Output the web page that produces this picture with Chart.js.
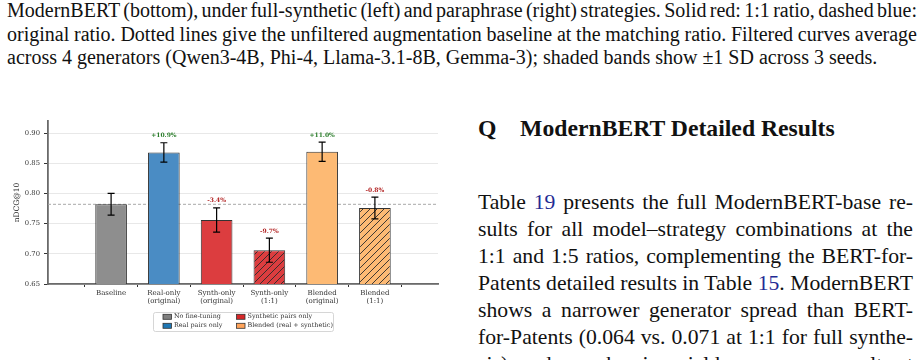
<!DOCTYPE html>
<html>
<head>
<meta charset="utf-8">
<script src="https://cdn.jsdelivr.net/npm/chart.js@4.4.1/dist/chart.umd.min.js"></script>
<style>
  html, body { margin: 0; padding: 0; background: #fff; }
  body { width: 923px; height: 360px; overflow: hidden; position: relative; }
  .cap { position: absolute; left: 7px; width: 910px; font-family: "Liberation Serif", serif; font-size: 20px; line-height: 23.7px; color: #111; white-space: nowrap; }
  .just { text-align: justify; text-align-last: justify; }
  #head { position: absolute; left: 478px; top: 117px; font-family: "Liberation Serif", serif; font-weight: bold; font-size: 23.7px; line-height: 23.7px; color: #111; white-space: nowrap; }
  #para { position: absolute; left: 478px; top: 189px; width: 435px; font-family: "Liberation Serif", serif; font-size: 21.7px; line-height: 27px; color: #111; }
  #para div { white-space: nowrap; text-align: justify; text-align-last: justify; }
  .ref { color: #1f2b94; }
  #chart { position: absolute; left: 0; top: 110px; }
</style>
</head>
<body>

<div class="cap just" style="top:-1px; word-spacing:-2px;">ModernBERT (bottom), under full-synthetic (left) and paraphrase (right) strategies. Solid red: 1:1 ratio, dashed blue:</div>
<div class="cap just" style="top:22.7px; word-spacing:-1px;">original ratio. Dotted lines give the unfiltered augmentation baseline at the matching ratio. Filtered curves average</div>
<div class="cap" style="top:46.4px;">across 4 generators (Qwen3-4B, Phi-4, Llama-3.1-8B, Gemma-3); shaded bands show ±1 SD across 3 seeds.</div>

<div id="head">Q&nbsp;&nbsp;&nbsp;&nbsp;ModernBERT Detailed Results</div>
<div id="para">
  <div>Table <span class="ref">19</span> presents the full ModernBERT-base re-</div>
  <div>sults for all model–strategy combinations at the</div>
  <div>1:1 and 1:5 ratios, complementing the BERT-for-</div>
  <div>Patents detailed results in Table <span class="ref">15</span>. ModernBERT</div>
  <div>shows a narrower generator spread than BERT-</div>
  <div>for-Patents (0.064 vs. 0.071 at 1:1 for full synthe-</div>
  <div>sis), and paraphrasing yields more even results at</div>
</div>

<canvas id="chart" width="445" height="225"></canvas>

<script>
// bar data (nDCG@10)
const categories = [
  ['Baseline'],
  ['Real-only', '(original)'],
  ['Synth-only', '(original)'],
  ['Synth-only', '(1:1)'],
  ['Blended', '(original)'],
  ['Blended', '(1:1)']
];
const values = [0.782, 0.868, 0.756, 0.706, 0.869, 0.776];
const errors = [0.018, 0.016, 0.020, 0.020, 0.016, 0.018];
const deltaLabels = ['', '+10.9%', '-3.4%', '-9.7%', '+11.0%', '-0.8%'];
const yTicks = [0.65, 0.70, 0.75, 0.80, 0.85, 0.90];
const yTitle = 'nDCG@10';

const legendLabels = ['No fine-tuning', 'Synthetic pairs only', 'Real pairs only', 'Blended (real + synthetic)'];

// styling
const barColors = ['#8e8e8e', '#4a8cc4', '#dc3d3f', '#dc3d3f', '#fdba74', '#fdba74'];
const hatched = [false, false, false, true, false, true];
const legendColors = ['#7f7f7f', '#d62728', '#1f77b4', '#ffa35a'];

function hatch(color) {
  const s = 7;
  const c = document.createElement('canvas');
  c.width = s; c.height = s;
  const g = c.getContext('2d');
  g.fillStyle = color;
  g.fillRect(0, 0, s, s);
  g.strokeStyle = '#2a2a2a';
  g.lineWidth = 0.9;
  g.beginPath();
  g.moveTo(-1, s + 1); g.lineTo(s + 1, -1);
  g.moveTo(-1, 1); g.lineTo(1, -1);
  g.moveTo(s - 1, s + 1); g.lineTo(s + 1, s - 1);
  g.stroke();
  return g.createPattern(c, 'repeat');
}

const ctx = document.getElementById('chart').getContext('2d');
const fills = barColors.map((c, i) => hatched[i] ? hatch(c) : c);

const extras = {
  id: 'extras',
  beforeDatasetsDraw(chart) {
    const { ctx, chartArea, scales } = chart;
    // dashed reference line at the baseline score
    const y = scales.y.getPixelForValue(values[0]);
    ctx.save();
    ctx.strokeStyle = '#a8a8a8';
    ctx.lineWidth = 1;
    ctx.setLineDash([3, 2]);
    ctx.beginPath();
    ctx.moveTo(chartArea.left, y);
    ctx.lineTo(chartArea.right, y);
    ctx.stroke();
    ctx.restore();
  },
  afterDatasetsDraw(chart) {
    const { ctx, scales } = chart;
    ctx.save();
    values.forEach((v, i) => {
      const x = scales.x.getPixelForValue(i);
      const top = scales.y.getPixelForValue(v + errors[i]);
      const bot = scales.y.getPixelForValue(v - errors[i]);
      ctx.strokeStyle = '#000';
      ctx.lineWidth = 1.2;
      ctx.beginPath();
      ctx.moveTo(x, top); ctx.lineTo(x, bot);
      ctx.moveTo(x - 3.5, top); ctx.lineTo(x + 3.5, top);
      ctx.moveTo(x - 3.5, bot); ctx.lineTo(x + 3.5, bot);
      ctx.stroke();
      if (deltaLabels[i]) {
        ctx.font = 'bold 6px "DejaVu Serif"';
        ctx.fillStyle = deltaLabels[i][0] === '+' ? '#2a7d2a' : '#b22222';
        ctx.textAlign = 'center';
        ctx.textBaseline = 'middle';
        ctx.fillText(deltaLabels[i], x, top - 7);
      }
    });
    ctx.restore();
  },
  afterDraw(chart) {
    const { ctx, chartArea } = chart;
    ctx.save();
    // y axis title
    ctx.translate(chartArea.left - 30.5, (chartArea.top + chartArea.bottom) / 2);
    ctx.rotate(-Math.PI / 2);
    ctx.font = '7.5px "DejaVu Serif"';
    ctx.fillStyle = '#222';
    ctx.textAlign = 'center';
    ctx.textBaseline = 'middle';
    ctx.fillText(yTitle, 0, 0);
    ctx.restore();

    // legend box, two columns
    const bw = 180, bh = 19;
    const bx = Math.round((chartArea.left + chartArea.right) / 2 - bw / 2) + 0.5;
    const by = chartArea.bottom + 28.5;
    ctx.save();
    ctx.fillStyle = '#fff';
    ctx.strokeStyle = '#cccccc';
    ctx.lineWidth = 0.8;
    ctx.beginPath();
    ctx.roundRect(bx, by, bw, bh, 2);
    ctx.fill();
    ctx.stroke();
    ctx.font = '6.4px "DejaVu Serif"';
    ctx.textBaseline = 'middle';
    ctx.textAlign = 'left';
    legendLabels.forEach((t, i) => {
      const col = i % 2, row = Math.floor(i / 2);
      const sx = bx + 9.5 + col * 73.5;
      const sy = by + 4.3 + row * 9;
      ctx.fillStyle = legendColors[i];
      ctx.fillRect(sx, sy - 2.5, 8.5, 5);
      ctx.strokeStyle = '#333';
      ctx.lineWidth = 0.8;
      ctx.strokeRect(sx, sy - 2.5, 8.5, 5);
      ctx.fillStyle = '#333';
      ctx.fillText(t, sx + 11, sy);
    });
    ctx.restore();
  }
};

new Chart(ctx, {
  type: 'bar',
  data: {
    datasets: [{
      data: values.map((v, i) => ({ x: i, y: v })),
      backgroundColor: fills,
      borderColor: '#333',
      borderWidth: 1,
      borderSkipped: false,
      barPercentage: 0.6,
      categoryPercentage: 1
    }]
  },
  options: {
    responsive: false,
    animation: false,
    devicePixelRatio: 1,
    layout: { padding: { top: 11, right: 7, left: 0, bottom: 25 } },
    plugins: { legend: { display: false }, tooltip: { enabled: false } },
    scales: {
      x: {
        type: 'linear',
        min: -0.58,
        max: 5.58,
        afterBuildTicks: (s) => { s.ticks = categories.map((c, i) => ({ value: i })); },
        afterFit: (s) => { s.height = 26; },
        ticks: {
          callback: (v) => categories[v],
          font: { family: 'DejaVu Serif', size: 7, lineHeight: 1.15 },
          color: '#333',
          padding: 2,
          maxRotation: 0,
          autoSkip: false
        },
        grid: { drawOnChartArea: false, drawTicks: true, tickLength: 3, tickColor: '#333' },
        border: { color: '#6a6a6a', width: 1.8 }
      },
      y: {
        min: 0.65,
        max: 0.92,
        afterBuildTicks: (s) => { s.ticks = yTicks.map(v => ({ value: v })); },
        afterFit: (s) => { s.width = 48; },
        ticks: {
          callback: (v) => v.toFixed(2),
          font: { family: 'DejaVu Serif', size: 6.8 },
          color: '#333',
          padding: 4
        },
        grid: { color: '#e8e8e8', lineWidth: 1, tickLength: 4, tickColor: '#333' },
        border: { color: '#6a6a6a', width: 1.8 }
      }
    }
  },
  plugins: [extras]
});
</script>
</body>
</html>
